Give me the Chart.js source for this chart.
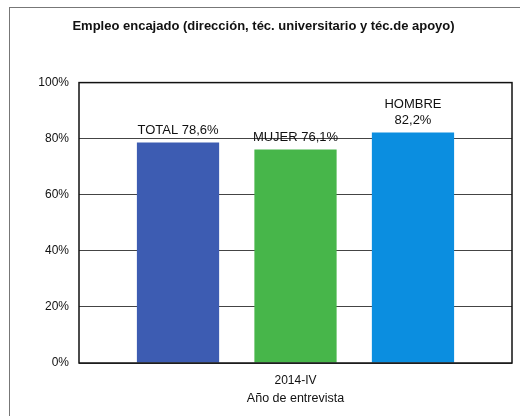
<!DOCTYPE html>
<html>
<head>
<meta charset="utf-8">
<script src="https://cdn.jsdelivr.net/npm/chart.js@4"></script>
<style>
  html, body { margin: 0; padding: 0; background: #fff; }
  #wrap { position: relative; width: 520px; height: 416px; }
  #frame { position: absolute; left: 9px; top: 7px; width: 520px; height: 420px;
           border-left: 1px solid #777; border-top: 1px solid #777; }
  canvas { position: absolute; left: 0; top: 0; }
</style>
</head>
<body>
<div id="wrap">
  <div id="frame"></div>
  <canvas id="empleoChart" width="520" height="416"></canvas>
</div>
<script>
const categories = ['2014-IV'];
const seriesNames = ['TOTAL', 'MUJER', 'HOMBRE'];
const seriesValues = [78.6, 76.1, 82.2];
const seriesLabels = [['TOTAL 78,6%'], ['MUJER 76,1%'], ['HOMBRE', '82,2%']];
const seriesColors = ['#3d5cb2', '#47b64a', '#0b8ee0'];
const yTicks = [0, 20, 40, 60, 80, 100];

const FONT = '"Liberation Sans", Arial, sans-serif';

// etiquetas encima de cada barra
const barLabels = {
  id: 'barLabels',
  afterDatasetsDraw(chart) {
    const ctx = chart.ctx;
    ctx.save();
    ctx.font = '13px ' + FONT;
    ctx.fillStyle = '#111';
    ctx.textAlign = 'center';
    ctx.textBaseline = 'alphabetic';
    chart.data.datasets.forEach((ds, i) => {
      const bar = chart.getDatasetMeta(i).data[0];
      const lines = seriesLabels[i];
      lines.forEach((t, j) => {
        ctx.fillText(t, bar.x, bar.y - 9 - (lines.length - 1 - j) * 15.5);
      });
    });
    ctx.restore();
  }
};

// marco del area de trazado
const plotBorder = {
  id: 'plotBorder',
  afterDatasetsDraw(chart) {
    const a = chart.chartArea;
    const ctx = chart.ctx;
    ctx.save();
    ctx.strokeStyle = '#111';
    ctx.lineWidth = 1.5;
    ctx.strokeRect(a.left, a.top, a.right - a.left, a.bottom - a.top);
    ctx.restore();
  }
};

const ctx = document.getElementById('empleoChart').getContext('2d');
const chart = new Chart(ctx, {
  type: 'bar',
  data: {
    labels: categories,
    datasets: seriesNames.map((name, i) => ({
      label: name,
      data: [seriesValues[i]],
      backgroundColor: seriesColors[i],
      borderWidth: 0,
      categoryPercentage: 0.814,
      barPercentage: 0.70
    }))
  },
  options: {
    responsive: false,
    animation: false,
    layout: { padding: { left: 15, right: 8, top: 0, bottom: 10 } },
    plugins: {
      legend: { display: false },
      tooltip: { enabled: false },
      title: {
        display: true,
        text: 'Empleo encajado (dirección, téc. universitario y téc.de apoyo)',
        color: '#111',
        font: { family: FONT, size: 13, weight: 'bold' },
        padding: { top: 19, bottom: 48 }
      }
    },
    scales: {
      y: {
        min: 0,
        max: 100,
        afterBuildTicks: (scale) => { scale.ticks = yTicks.map(v => ({ value: v })); },
        afterFit: (scale) => { scale.width = 64; },
        ticks: {
          color: '#111',
          padding: 10,
          font: { family: FONT, size: 12 },
          callback: (v) => v + '%'
        },
        grid: { color: '#444', lineWidth: 1, drawTicks: false },
        border: { display: false }
      },
      x: {
        afterFit: (scale) => { scale.height = 43; },
        ticks: { color: '#111', padding: 10, font: { family: FONT, size: 12 } },
        grid: { display: false, drawTicks: false },
        border: { display: false },
        title: {
          display: true,
          text: 'Año de entrevista',
          color: '#111',
          font: { family: FONT, size: 12.5 },
          padding: { top: 2, bottom: 0 }
        }
      }
    }
  },
  plugins: [plotBorder, barLabels]
});
</script>
</body>
</html>
